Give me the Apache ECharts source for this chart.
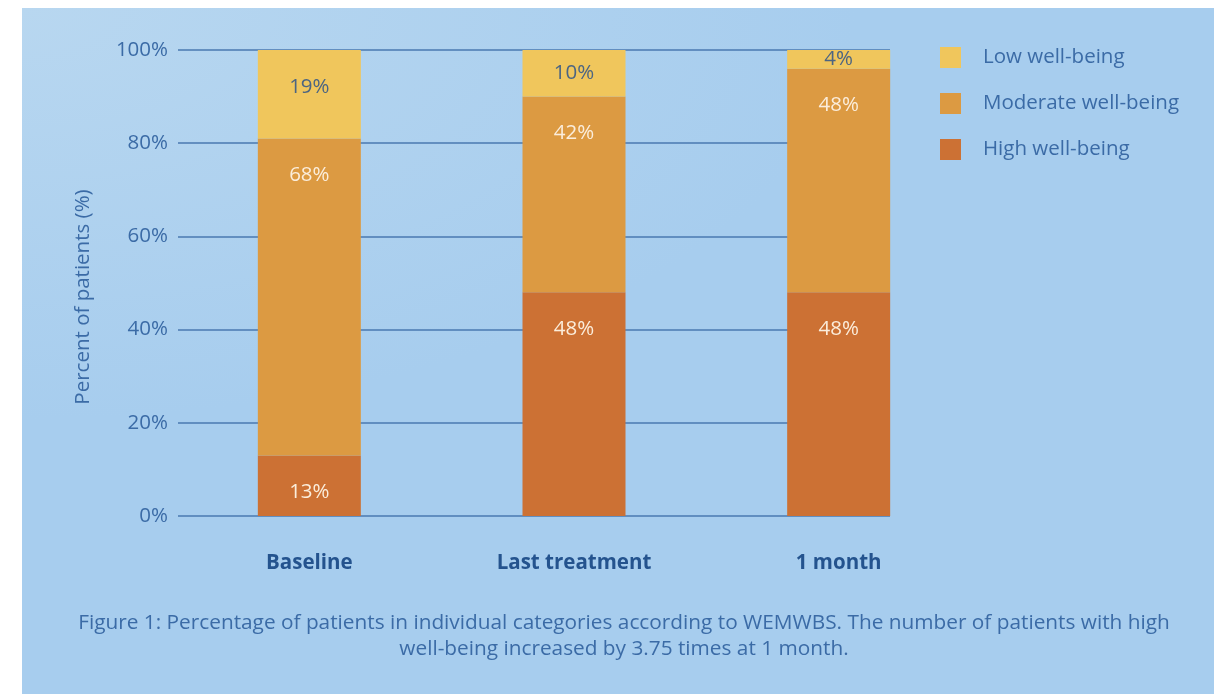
<!DOCTYPE html>
<html>
<head>
<meta charset="utf-8">
<script src="https://cdn.jsdelivr.net/npm/echarts@6/dist/echarts.min.js"></script>
<style>
  html, body { margin: 0; padding: 0; background: #ffffff; }
  #panel {
    position: absolute; left: 22px; top: 8px; width: 1192px; height: 686px;
    background: radial-gradient(ellipse 70% 60% at 0% 0%, #b8d7f0 0%, #a7cdee 100%);
  }
  #chart { position: absolute; left: 0; top: 0; width: 1214px; height: 694px; }
</style>
</head>
<body>
<div id="panel"></div>
<div id="chart"></div>
<script>
// Share of patients per WEMWBS well-being category at each time point
const categories = ['Baseline', 'Last treatment', '1 month'];
const highWellBeing = [13, 48, 48];
const moderateWellBeing = [68, 42, 48];
const lowWellBeing = [19, 10, 4];
const yTicks = [0, 20, 40, 60, 80, 100];

const FONT = '"Open Sans", "Noto Sans", sans-serif';
const TEXT_BLUE = '#3b6ba6';
const GRID_BLUE = '#4a79b1';

const chart = echarts.init(document.getElementById('chart'), null, { renderer: 'canvas' });

// Labels sit near the top of each segment; short segments get them centred.
function segmentData(values) {
  return values.map(v => ({
    value: v,
    label: v <= 10 ? { position: 'inside', distance: 0 } : {}
  }));
}

function barSeries(name, values, color, textColor) {
  return {
    name: name,
    type: 'bar',
    stack: 'share',
    xAxisIndex: 1,
    yAxisIndex: 1,
    barWidth: 103,
    itemStyle: { color: color },
    label: {
      show: true,
      position: 'insideTop',
      distance: 26,
      formatter: '{c}%',
      color: textColor,
      fontFamily: FONT,
      fontSize: 20.5,
      lineHeight: 22
    },
    emphasis: { disabled: true },
    data: segmentData(values)
  };
}

chart.setOption({
  animation: false,
  grid: [
    // grid lines and percentage scale
    { left: 178, right: 324, top: 50, bottom: 178 },
    // stacked bars
    { left: 177, right: 243, top: 50, bottom: 178 }
  ],
  legend: {
    orient: 'vertical',
    left: 940,
    top: 47,
    padding: 0,
    icon: 'rect',
    itemWidth: 21,
    itemHeight: 21,
    itemGap: 25,
    data: ['Low well-being', 'Moderate well-being', 'High well-being'],
    textStyle: {
      fontFamily: FONT,
      fontSize: 20.5,
      color: TEXT_BLUE,
      padding: [0, 0, 0, 17]
    },
    selectedMode: false
  },
  xAxis: [
    { gridIndex: 0, type: 'category', data: categories, show: false },
    {
      gridIndex: 1,
      type: 'category',
      data: categories,
      axisLine: { show: false },
      axisTick: { show: false },
      axisLabel: {
        margin: 36,
        fontFamily: FONT,
        fontSize: 20.5,
        lineHeight: 22,
        fontWeight: 'bold',
        color: '#24538e'
      }
    }
  ],
  yAxis: [
    {
      gridIndex: 0,
      type: 'value',
      min: yTicks[0],
      max: yTicks[yTicks.length - 1],
      interval: yTicks[1] - yTicks[0],
      axisLine: { show: false },
      axisTick: { show: false },
      splitLine: { lineStyle: { color: GRID_BLUE, width: 1.5 } },
      axisLabel: {
        margin: 10,
        formatter: '{value}%',
        fontFamily: FONT,
        fontSize: 20.5,
        color: TEXT_BLUE
      }
    },
    {
      gridIndex: 1,
      type: 'value',
      min: yTicks[0],
      max: yTicks[yTicks.length - 1],
      show: false
    }
  ],
  series: [
    barSeries('High well-being', highWellBeing, '#cc7134', '#fbeddb'),
    barSeries('Moderate well-being', moderateWellBeing, '#dc9a42', '#fbeddb'),
    barSeries('Low well-being', lowWellBeing, '#f0c65c', '#4c6582')
  ],
  graphic: [
    {
      type: 'text',
      x: 83,
      y: 297,
      rotation: Math.PI / 2,
      style: {
        text: 'Percent of patients (%)',
        fontFamily: FONT,
        fontSize: 20.5,
        fill: TEXT_BLUE,
        align: 'center',
        verticalAlign: 'middle'
      }
    },
    {
      type: 'text',
      x: 624,
      y: 636,
      style: {
        text: 'Figure 1: Percentage of patients in individual categories according to WEMWBS. The number of patients with high\nwell-being increased by 3.75 times at 1 month.',
        fontFamily: FONT,
        fontSize: 20.8,
        lineHeight: 26,
        fill: TEXT_BLUE,
        align: 'center',
        verticalAlign: 'middle'
      }
    }
  ]
});
</script>
</body>
</html>
